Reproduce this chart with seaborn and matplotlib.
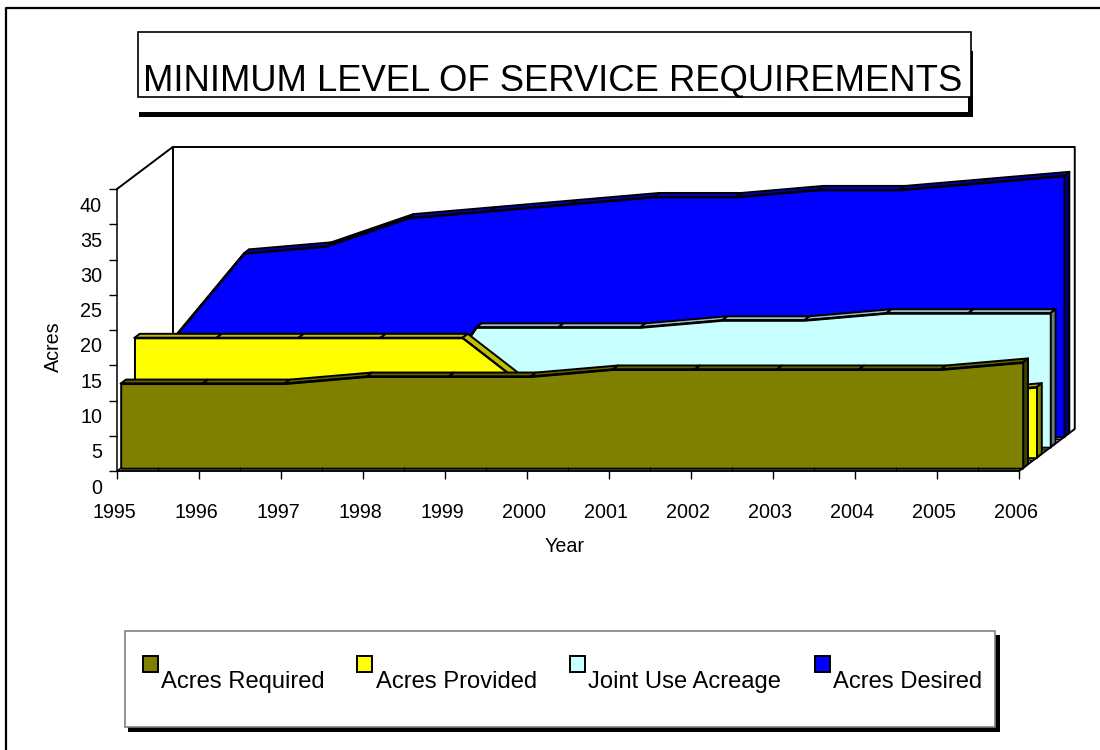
import matplotlib
matplotlib.use("Agg")
import matplotlib.pyplot as plt
from matplotlib.lines import Line2D
from matplotlib.patches import Rectangle
import seaborn as sns

years = [1995, 1996, 1997, 1998, 1999, 2000, 2001, 2002, 2003, 2004, 2005, 2006]
acres_required = [12, 12, 12, 13, 13, 13, 14, 14, 14, 14, 14, 15]
acres_provided = [17, 17, 17, 17, 17, 8, 8, 9, 9, 9, 9, 10]
joint_use = [0, 0, 0, 0, 17, 17, 17, 18, 18, 19, 19, 19]
acres_desired = [12, 26, 27, 31, 32, 33, 34, 34, 35, 35, 36, 37]
series_names = ["Acres Required", "Acres Provided", "Joint Use Acreage", "Acres Desired"]
yticks = [0, 5, 10, 15, 20, 25, 30, 35, 40]

W, H = 1100, 750
sns.set_theme(style="white")
plt.rcParams['font.family'] = ['Liberation Sans', 'DejaVu Sans']

fig = plt.figure(figsize=(W / 100, H / 100), dpi=100)


def fx(x):
    return x / W


def fy(y):
    return 1 - y / H


def box(x0, y0, x1, y1, **kw):
    # figure-level rectangle given in image pixels
    fig.add_artist(Rectangle((fx(x0), fy(y1)), (x1 - x0) / W, (y1 - y0) / H,
                             transform=fig.transFigure, **kw))


# outer frame only has a top and a left edge
fig.add_artist(Line2D([fx(6), fx(6), 1], [0, fy(8), fy(8)], color="black", lw=1.6))

# title box: the white bottom part is cut by the chart title's own box
box(139, 51, 973, 117, fc="black", ec="none")
box(138, 97, 968, 112, fc="white", ec="none")
box(138, 32, 971, 97, fc="white", ec="black", lw=1.2)
fig.text(fx(143), fy(91.5), "MINIMUM LEVEL OF SERVICE REQUIREMENTS", fontsize=26.2,
         color="black", va="baseline")

# legend
box(128, 635, 1000, 732, fc="black", ec="none")
box(125, 631, 995, 727, fc="white", ec="#808080", lw=1.2)

colors = ["#808000", "#ffff00", "#c8ffff", "#0000ff"]
marker_x = [143, 357, 570, 815]
text_x = [161, 376, 588, 833]
for name, c, mx, tx in zip(series_names, colors, marker_x, text_x):
    box(mx, 656, mx + 15, 672, fc=c, ec="black", lw=1.4)
    fig.text(fx(tx), fy(688), name, fontsize=17.1, color="black", va="baseline")

ax = fig.add_axes([fx(117), fy(471), 902 / W, 282 / H])
ax.set_zorder(5)
ax.patch.set_alpha(0)
ax.set_xlim(years[0], years[-1])
ax.set_ylim(0, 40)

# oblique depth of the box, in data units
depth_x, depth_y = 0.68, 5.96
back_x = years[-1] + depth_x

# walls
lw = 1.4
ax.plot([years[0], years[0] + depth_x, back_x, back_x, years[-1]],
        [40, 40 + depth_y, 40 + depth_y, depth_y, 0], color="black", lw=lw, clip_on=False, zorder=0.5)
ax.plot([years[0] + depth_x] * 2, [depth_y, 40 + depth_y], color="black", lw=lw, clip_on=False, zorder=0.5)

slab_x, slab_y = 0.065, 0.57
all_series = [acres_required, acres_provided, joint_use, acres_desired]


def shade(c, f):
    r, g, b = matplotlib.colors.to_rgb(c)
    return (r * f, g * f, b * f)


# back to front
for i in [3, 2, 1, 0]:
    vals = all_series[i]
    ox = 0.045 + 0.168 * i
    oy = 0.4 + 1.49 * i
    xs = [yr + ox for yr in years]
    ys = [v + oy for v in vals]
    z = 1 + (3 - i) * 0.3
    kw = dict(ec="black", lw=lw, clip_on=False, joinstyle="round", zorder=z)
    # floor strip in front of the slab
    ax.fill([xs[0] - 0.045, xs[0], xs[-1], xs[-1] - 0.045], [oy - 0.4, oy, oy, oy - 0.4],
            fc="#a6a6a6", ec="black", lw=1, clip_on=False, zorder=z)
    # top of the slab, one quad per segment
    for j in range(len(years) - 1):
        ax.fill([xs[j], xs[j + 1], xs[j + 1] + slab_x, xs[j] + slab_x],
                [ys[j], ys[j + 1], ys[j + 1] + slab_y, ys[j] + slab_y],
                fc=shade(colors[i], 0.75), **kw)
    # right end of the slab
    ax.fill([xs[-1], xs[-1] + slab_x, xs[-1] + slab_x, xs[-1]],
            [oy, oy + slab_y, ys[-1] + slab_y, ys[-1]],
            fc=shade(colors[i], 0.5), **kw)
    # front face
    ax.fill_between(xs, oy, ys, color=colors[i], ec="black", lw=lw, clip_on=False, zorder=z)
    sns.lineplot(x=xs, y=ys, color="black", lw=lw, ax=ax, clip_on=False, legend=False,
                 errorbar=None, sort=False, zorder=z)

ax.set_xlim(years[0], years[-1])
ax.set_ylim(0, 40)

ax.set_xticks(years)
ax.set_xticks([yr + 0.5 for yr in years[:-1]], minor=True)
ax.set_yticks(yticks)
ax.set_axisbelow(False)
ax.grid(False)
ax.tick_params(axis="x", which="major", direction="out", length=5.8, width=1, color="black",
               labelsize=14.2, pad=17.5, labelcolor="black", bottom=True)
ax.tick_params(axis="x", which="minor", direction="in", length=2.9, width=1, color="black", bottom=True)
ax.tick_params(axis="y", direction="out", length=5.8, width=1, color="black",
               labelsize=14.2, pad=5, labelcolor="black", left=True)
# Value labels sit a little below their ticks in the reference
offset = matplotlib.transforms.Affine2D().translate(0, -15)
for lab in ax.get_yticklabels():
    lab.set_transform(lab.get_transform() + offset)
offset_x = matplotlib.transforms.Affine2D().translate(-3, 0)
for lab in ax.get_xticklabels():
    lab.set_transform(lab.get_transform() + offset_x)

for side in ["top", "right"]:
    ax.spines[side].set_visible(False)
for side in ["left", "bottom"]:
    ax.spines[side].set_color("black")
    ax.spines[side].set_linewidth(1.1)

fig.text(fx(53), fy(347), "Acres", rotation=90, fontsize=14.2, color="black", ha="center", va="center")
fig.text(fx(565), fy(546), "Year", fontsize=14.2, color="black", ha="center", va="center")

fig.savefig("out.png", dpi=100)
